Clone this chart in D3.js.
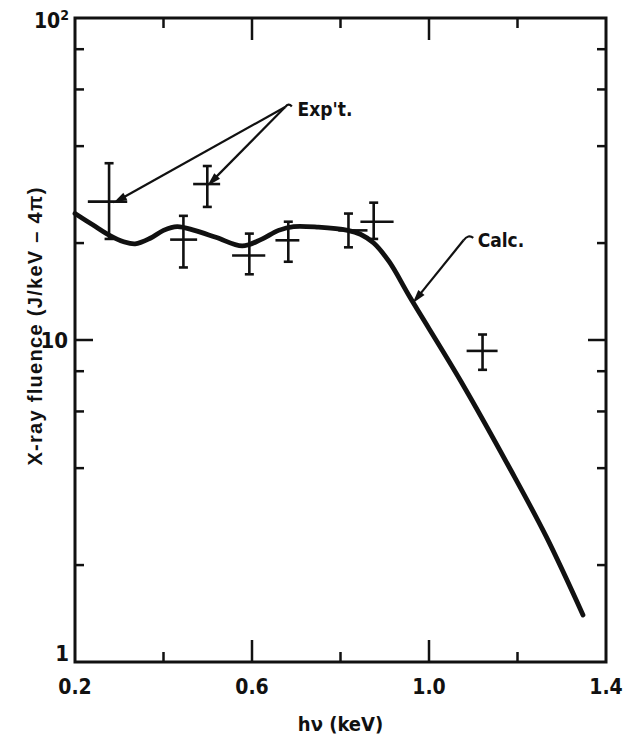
<!DOCTYPE html>
<html>
<head>
<meta charset="utf-8">
<script src="https://cdn.jsdelivr.net/npm/d3@7"></script>
<style>
  html, body { margin: 0; padding: 0; background: #fff; }
  svg { display: block; }
  .num { font-family: "DejaVu Sans Condensed", "Liberation Sans Narrow", "Liberation Sans", Arial, sans-serif; font-weight: bold; fill: #111; }
  .ttl { font-family: "Liberation Sans", Arial, sans-serif; font-weight: bold; fill: #111; }
</style>
</head>
<body>
<script>
// ---- data ----
const calcX = [0.20, 0.24, 0.279, 0.31, 0.336, 0.37, 0.40, 0.431, 0.47, 0.52, 0.578, 0.62, 0.66, 0.694, 0.75, 0.816, 0.845, 0.875, 0.91, 0.958, 1.072, 1.185, 1.265, 1.348];
const calcY = [24.7, 22.8, 21.1, 20.2, 19.9, 20.7, 21.9, 22.5, 21.9, 20.8, 19.6, 20.5, 21.9, 22.5, 22.4, 21.9, 21.3, 20.0, 17.5, 13.5, 7.45, 3.94, 2.45, 1.40];

const expX    = [0.277, 0.445, 0.499, 0.594, 0.682, 0.818, 0.875, 1.121];
const expXlo  = [0.229, 0.415, 0.467, 0.555, 0.653, 0.795, 0.845, 1.085];
const expXhi  = [0.318, 0.476, 0.528, 0.630, 0.707, 0.861, 0.920, 1.155];
const expY    = [26.9, 20.5, 30.5, 18.3, 20.4, 21.9, 23.3, 9.25];
const expYlo  = [20.6, 16.8, 25.9, 16.0, 17.5, 19.4, 20.6, 8.08];
const expYhi  = [35.4, 24.3, 34.7, 21.4, 23.3, 24.7, 26.7, 10.4];

const xTicksMajor = [0.6, 1.0];
const xTicksMinor = [0.4, 0.8, 1.2];
const xTickLabels = ["0.2", "0.6", "1.0", "1.4"];
const xTickLabelVals = [0.2, 0.6, 1.0, 1.4];
const yTicksMajor = [10];
const yTicksMinor = [2, 4, 6, 8, 20, 40, 60, 80];

const xTitle = "hν (keV)";
const yTitle = "X-ray fluence (J/keV – 4π)";

// annotations (data coordinates)
const expLabel = { text: "Exp't.", x: 0.703, y: 49.6 };
const expArrowStart = { x: 0.675, y: 52.9 };
const expHookEnd = { x: 0.690, y: 53.5 };
const expArrowEnds = [ { x: 0.286, y: 26.6 }, { x: 0.499, y: 30.1 } ];
const calcLabel = { text: "Calc.", x: 1.110, y: 19.4 };
const calcArrowStart = { x: 1.078, y: 20.4 };
const calcHookEnd = { x: 1.100, y: 20.9 };
const calcArrowEnd = { x: 0.963, y: 13.0 };

// ---- layout ----
const W = 625, H = 738;
const L = 75, R = 606, T = 18, B = 662;

const svg = d3.select("body").append("svg").attr("width", W).attr("height", H);

const x = d3.scaleLinear().domain([0.2, 1.4]).range([L, R]);
const y = d3.scaleLog().domain([1, 100]).range([B, T]);

const ink = "#111";

// frame
svg.append("rect").attr("x", L).attr("y", T).attr("width", R - L).attr("height", B - T)
  .attr("fill", "none").attr("stroke", ink).attr("stroke-width", 3);

// ticks
const xt = svg.append("g").attr("stroke", ink).attr("stroke-width", 2.5);
xTicksMajor.forEach(v => {
  xt.append("line").attr("x1", x(v)).attr("x2", x(v)).attr("y1", B).attr("y2", B - 22);
  xt.append("line").attr("x1", x(v)).attr("x2", x(v)).attr("y1", T).attr("y2", T + 22);
});
xTicksMinor.forEach(v => {
  xt.append("line").attr("x1", x(v)).attr("x2", x(v)).attr("y1", B).attr("y2", B - 10);
  xt.append("line").attr("x1", x(v)).attr("x2", x(v)).attr("y1", T).attr("y2", T + 10);
});
yTicksMajor.forEach(v => {
  xt.append("line").attr("x1", L).attr("x2", L + 18).attr("y1", y(v)).attr("y2", y(v));
  xt.append("line").attr("x1", R).attr("x2", R - 18).attr("y1", y(v)).attr("y2", y(v));
});
yTicksMinor.forEach(v => {
  xt.append("line").attr("x1", L).attr("x2", L + 9).attr("y1", y(v)).attr("y2", y(v));
  xt.append("line").attr("x1", R).attr("x2", R - 9).attr("y1", y(v)).attr("y2", y(v));
});

// x tick labels
xTickLabelVals.forEach((v, i) => {
  svg.append("text").attr("class", "num").attr("x", x(v)).attr("y", 694)
    .attr("text-anchor", "middle").attr("font-size", 21).text(xTickLabels[i]);
});
// y tick labels
const t100 = svg.append("text").attr("class", "num").attr("x", L - 6).attr("y", y(100) + 10)
  .attr("text-anchor", "end").attr("font-size", 21);
t100.append("tspan").text("10");
t100.append("tspan").attr("font-size", 14).attr("dy", -8).text("2");
svg.append("text").attr("class", "num").attr("x", L - 7).attr("y", y(10) + 8)
  .attr("text-anchor", "end").attr("font-size", 22).text("10");
svg.append("text").attr("class", "num").attr("x", L - 6).attr("y", y(1) - 1)
  .attr("text-anchor", "end").attr("font-size", 22).text("1");

// axis titles
svg.append("text").attr("class", "num").attr("x", (L + R) / 2).attr("y", 731)
  .attr("text-anchor", "middle").attr("font-size", 20).text(xTitle);
svg.append("text").attr("class", "ttl")
  .attr("transform", `translate(42, 326) rotate(-90)`)
  .attr("text-anchor", "middle").attr("font-size", 20).attr("letter-spacing", 1.3).text(yTitle);

// calc curve
const calc = calcX.map((v, i) => [v, calcY[i]]);
svg.append("path").datum(calc)
  .attr("d", d3.line().x(d => x(d[0])).y(d => y(d[1])).curve(d3.curveCatmullRom.alpha(0.5)))
  .attr("fill", "none").attr("stroke", ink).attr("stroke-width", 4.8)
  .attr("stroke-linejoin", "round").attr("stroke-linecap", "round");

// experimental error crosses
const eg = svg.append("g").attr("stroke", ink).attr("stroke-width", 2.6).attr("fill", "none");
expX.forEach((v, i) => {
  const cx = x(v), cap = 4.5;
  eg.append("line").attr("x1", x(expXlo[i])).attr("x2", x(expXhi[i])).attr("y1", y(expY[i])).attr("y2", y(expY[i]));
  eg.append("line").attr("x1", cx).attr("x2", cx).attr("y1", y(expYlo[i])).attr("y2", y(expYhi[i]));
  eg.append("line").attr("x1", cx - cap).attr("x2", cx + cap).attr("y1", y(expYlo[i])).attr("y2", y(expYlo[i]));
  eg.append("line").attr("x1", cx - cap).attr("x2", cx + cap).attr("y1", y(expYhi[i])).attr("y2", y(expYhi[i]));
});

// arrows
function arrow(p0, p1) {
  const x0 = x(p0.x), y0 = y(p0.y), x1 = x(p1.x), y1 = y(p1.y);
  const ang = Math.atan2(y1 - y0, x1 - x0);
  const len = 14, wid = 4;
  svg.append("line").attr("x1", x0).attr("y1", y0).attr("x2", x1 - Math.cos(ang) * 6).attr("y2", y1 - Math.sin(ang) * 6)
    .attr("stroke", ink).attr("stroke-width", 2.2);
  const bx = x1 - Math.cos(ang) * len, by = y1 - Math.sin(ang) * len;
  const nx = -Math.sin(ang) * wid, ny = Math.cos(ang) * wid;
  svg.append("path").attr("d", `M${x1},${y1}L${bx + nx},${by + ny}L${bx - nx},${by - ny}Z`).attr("fill", ink);
}
function hook(p0, p1) {
  const x0 = x(p0.x), y0 = y(p0.y), x1 = x(p1.x), y1 = y(p1.y);
  svg.append("path").attr("d", `M${x0},${y0}Q${(x0 + x1) / 2},${Math.min(y0, y1) - 3} ${x1},${y1 + 1}`)
    .attr("fill", "none").attr("stroke", ink).attr("stroke-width", 2.2);
}
expArrowEnds.forEach(e => arrow(expArrowStart, e));
hook(expArrowStart, expHookEnd);
arrow(calcArrowStart, calcArrowEnd);
hook(calcArrowStart, calcHookEnd);

svg.append("text").attr("class", "num").attr("x", x(expLabel.x)).attr("y", y(expLabel.y))
  .attr("font-size", 19).text(expLabel.text);
svg.append("text").attr("class", "num").attr("x", x(calcLabel.x)).attr("y", y(calcLabel.y))
  .attr("font-size", 19).text(calcLabel.text);
</script>
</body>
</html>
